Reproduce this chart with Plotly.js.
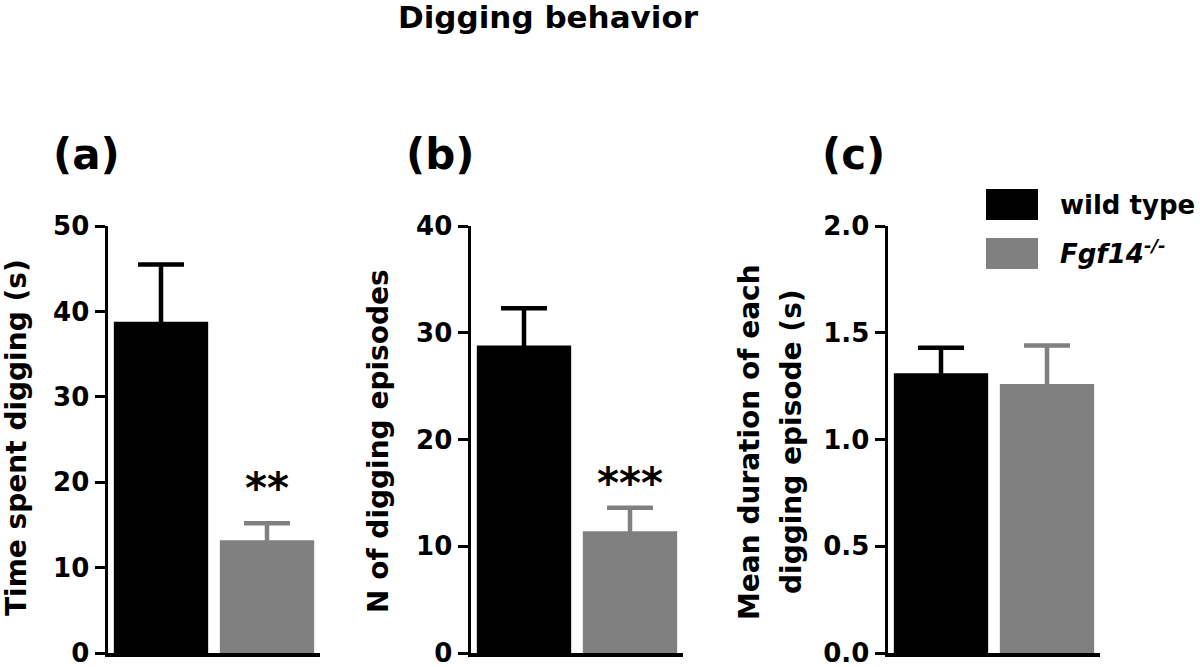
<!DOCTYPE html>
<html>
<head>
<meta charset="utf-8">
<script src="https://cdn.plot.ly/plotly-3.0.1.min.js"></script>
<style>
  html, body { margin: 0; padding: 0; background: #fff; }
  #chart { width: 1200px; height: 667px; }
</style>
</head>
<body>
<div id="chart"></div>
<script>
// ---- data ----
const categories = ['wild type', 'Fgf14-/-'];
const timeMean = [38.8, 13.2];
const timeSem = [6.7, 2.0];
const episodesMean = [28.8, 11.4];
const episodesSem = [3.5, 2.2];
const durationMean = [1.31, 1.26];
const durationSem = [0.12, 0.18];
const panelLabels = ['(a)', '(b)', '(c)'];
const yTitles = ['Time spent digging (s)', 'N of digging episodes', 'Mean duration of each', 'digging episode (s)'];
const significance = ['**', '***'];
const legendLabels = ['wild type', '<i>Fgf14<sup>-/-</sup></i>'];

// ---- styling ----
const W = 1200, H = 667;
const FONT = 'DejaVu Sans, Arial, sans-serif';
const colors = ['#000000', '#808080'];
const px = v => v / W;
const py = v => 1 - v / H;

const panels = [
  { mean: timeMean, sem: timeSem, suf: '', dom: [108, 320], range: [0, 50], dtick: 10, fmt: 'd' },
  { mean: episodesMean, sem: episodesSem, suf: '2', dom: [471, 683], range: [0, 40], dtick: 10, fmt: 'd' },
  { mean: durationMean, sem: durationSem, suf: '3', dom: [888, 1100], range: [0, 2], dtick: 0.5, fmt: '.1f' }
];

const traces = [];
panels.forEach(p => {
  categories.forEach((c, g) => {
    traces.push({
      type: 'bar',
      x: [c],
      y: [p.mean[g]],
      xaxis: 'x' + p.suf,
      yaxis: 'y' + p.suf,
      width: 0.89,
      marker: { color: colors[g], line: { width: 0 } },
      // symmetric SEM; the lower half is hidden inside the same-coloured bar
      error_y: {
        type: 'data', symmetric: true,
        array: [p.sem[g]],
        color: colors[g], thickness: 4.5, width: 23
      },
      showlegend: false,
      hoverinfo: 'skip'
    });
  });
});

const layout = {
  width: W, height: H,
  margin: { l: 0, r: 0, t: 0, b: 0, pad: 0 },
  paper_bgcolor: '#fff', plot_bgcolor: '#fff',
  barmode: 'overlay',
  showlegend: false,
  title: {
    text: 'Digging behavior',
    font: { family: FONT, size: 31, weight: 'bold', color: '#000' },
    x: px(548), xanchor: 'center', xref: 'container',
    y: py(17), yanchor: 'middle', yref: 'container'
  },
  annotations: [],
  shapes: []
};

const yDom = [1 - 653 / H, 1 - 226 / H];
panels.forEach(p => {
  layout['xaxis' + p.suf] = {
    domain: [px(p.dom[0]), px(p.dom[1])],
    anchor: 'y' + p.suf,
    type: 'category',
    categoryorder: 'array', categoryarray: categories,
    range: [-0.5, 1.5],
    showticklabels: false, ticks: '',
    showline: true, linecolor: '#000', linewidth: 3.5,
    showgrid: false, zeroline: false, fixedrange: true
  };
  layout['yaxis' + p.suf] = {
    domain: yDom,
    anchor: 'x' + p.suf,
    range: p.range, dtick: p.dtick, tick0: 0, tickformat: p.fmt,
    ticks: 'outside', ticklen: 10, tickwidth: 3, tickcolor: '#000',
    ticklabeloverflow: 'allow',
    showline: true, linecolor: '#000', linewidth: 3.5,
    showgrid: false, zeroline: false, fixedrange: true,
    tickfont: { family: FONT, size: 26, weight: 'bold', color: '#000' }
  };
});

// panel letters
[86, 440, 853].forEach((x, i) => {
  layout.annotations.push({
    text: panelLabels[i], xref: 'paper', yref: 'paper',
    x: px(x), y: py(154), xanchor: 'center', yanchor: 'middle',
    showarrow: false,
    font: { family: FONT, size: 42, weight: 'bold', color: '#000' }
  });
});

// y axis titles
const titlePos = [[16, 438], [378, 441], [749, 442], [791, 442]];
yTitles.forEach((t, i) => {
  layout.annotations.push({
    text: t, xref: 'paper', yref: 'paper',
    x: px(titlePos[i][0]), y: py(titlePos[i][1]),
    xanchor: 'center', yanchor: 'middle', textangle: -90,
    showarrow: false,
    font: { family: FONT, size: 28, weight: 'bold', color: '#000' }
  });
});

// significance stars (above the Fgf14 error bars)
[[panels[0], 0, 8], [panels[1], 1, -2]].forEach(([p, i, shift]) => {
  layout.annotations.push({
    text: significance[i], xref: 'x' + p.suf, yref: 'y' + p.suf,
    x: categories[1], y: p.mean[1] + p.sem[1],
    xanchor: 'center', yanchor: 'bottom', yshift: shift,
    showarrow: false,
    font: { family: FONT, size: 42, weight: 'bold', color: '#000' }
  });
});

// legend (boxes + labels)
const legRows = [[189, 220, 205], [238, 269, 252]];
legRows.forEach((r, i) => {
  layout.shapes.push({
    type: 'rect', xref: 'paper', yref: 'paper',
    x0: px(986), x1: px(1038), y0: py(r[1]), y1: py(r[0]),
    fillcolor: colors[i], line: { width: 0 }
  });
  layout.annotations.push({
    text: legendLabels[i], xref: 'paper', yref: 'paper',
    x: px(1058), y: py(r[2]), xanchor: 'left', yanchor: 'middle',
    showarrow: false,
    font: { family: FONT, size: 26, weight: 'bold', color: '#000' }
  });
});

Plotly.newPlot('chart', traces, layout, { staticPlot: true, displayModeBar: false });
</script>
</body>
</html>
